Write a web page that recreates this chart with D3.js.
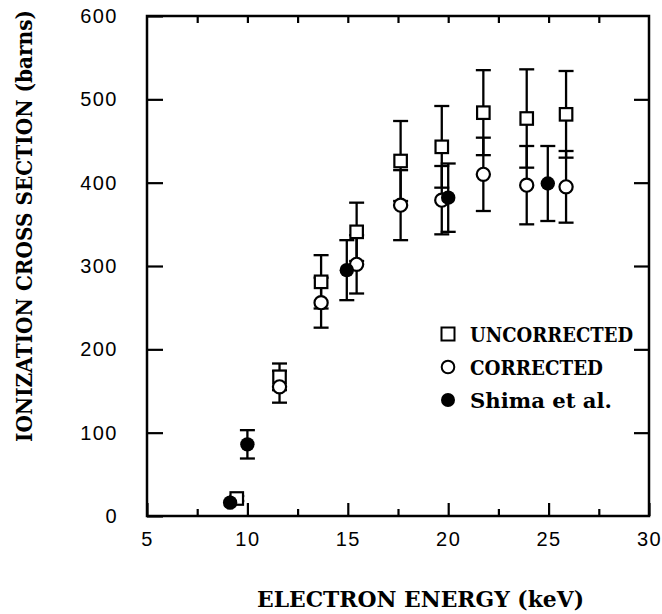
<!DOCTYPE html>
<html lang="en">
<head>
<meta charset="UTF-8" />
<title>Ionization cross section</title>
<script src="https://d3js.org/d3.v7.min.js"></script>
<style>
  body { margin: 0; background: #fff; }
  .tick text { font-family: "Liberation Sans", Arial, sans-serif; font-size: 20px; letter-spacing: 1.5px; fill: #000; }
  .title { font-family: "DejaVu Serif", "Liberation Serif", serif; font-weight: bold; font-size: 22px; fill: #000; }
  .legend text { font-family: "DejaVu Serif", "Liberation Serif", serif; font-weight: bold; font-size: 20px; fill: #000; }
</style>
</head>
<body>
<div id="chart"></div>
<script>
// uncorrected (open squares)
const energyUnc = [9.47, 11.6, 13.67, 15.44, 17.63, 19.68, 21.75, 23.91, 25.87];
const sigmaUnc  = [21, 167, 281, 341, 426, 443, 484, 477, 482];
const errUnc    = [3, 16, 32, 35, 48, 49, 51, 59, 52];

// corrected (open circles)
const energyCor = [11.6, 13.67, 15.44, 17.63, 19.68, 21.75, 23.91, 25.87];
const sigmaCor  = [155, 256, 302, 373, 379, 410, 397, 395];
const errCor    = [19, 30, 35, 42, 41, 44, 47, 43];

// Shima et al. (filled circles)
const energyShima = [9.14, 10.0, 14.95, 20.0, 24.96];
const sigmaShima  = [16, 86, 295, 382, 399];
const errShima    = [0, 17, 36, 41, 45];

const xTicks = [5, 10, 15, 20, 25, 30];
const xMinor = [7.5, 12.5, 17.5, 22.5, 27.5];
const yTicks = [0, 100, 200, 300, 400, 500, 600];

const legendLabels = ["UNCORRECTED", "CORRECTED", "Shima et al."];

const W = 662, H = 614;
const margin = { top: 16, right: 13, bottom: 98, left: 147 };
const width = W - margin.left - margin.right;
const height = H - margin.top - margin.bottom;

const svg = d3.select("#chart").append("svg")
  .attr("width", W).attr("height", H);
const g = svg.append("g").attr("transform", `translate(${margin.left},${margin.top})`);

const x = d3.scaleLinear().domain([5, 30]).range([0, width]);
const y = d3.scaleLinear().domain([0, 600]).range([height, 0]);

function styleAxis(sel) {
  sel.select(".domain").remove();
  sel.selectAll(".tick line").attr("stroke", "#000").attr("stroke-width", 2.2);
}

// bottom: labels + major ticks
g.append("g").attr("transform", `translate(0,${height})`)
  .call(d3.axisBottom(x).tickValues(xTicks).tickSizeInner(-13).tickSizeOuter(0).tickPadding(16).tickFormat(d3.format("d")))
  .call(styleAxis);
g.append("g").attr("transform", `translate(0,${height})`)
  .call(d3.axisBottom(x).tickValues(xMinor).tickSizeInner(-7).tickSizeOuter(0).tickFormat(""))
  .call(styleAxis);
// top ticks
g.append("g")
  .call(d3.axisTop(x).tickValues(xMinor.concat([10, 15, 20, 25])).tickSizeInner(-7).tickSizeOuter(0).tickFormat(""))
  .call(styleAxis);
// left
g.append("g")
  .call(d3.axisLeft(y).tickValues(yTicks).tickSizeInner(-16).tickSizeOuter(0).tickPadding(29).tickFormat(d3.format("d")))
  .call(styleAxis);
// right
g.append("g").attr("transform", `translate(${width},0)`)
  .call(d3.axisRight(y).tickValues(yTicks.slice(1, -1)).tickSizeInner(-15).tickSizeOuter(0).tickFormat(""))
  .call(styleAxis);

g.selectAll(".tick text").attr("fill", "#000");

// frame
g.append("rect").attr("width", width).attr("height", height)
  .attr("fill", "none").attr("stroke", "#000").attr("stroke-width", 2.5);

// error bars
function errorBars(xs, ys, es) {
  const pts = xs.map((e, i) => ({ e, s: ys[i], d: es[i] })).filter(p => p.d > 0);
  const eg = g.append("g").attr("stroke", "#000").attr("stroke-width", 2.3);
  eg.selectAll("line.v").data(pts).enter().append("line")
    .attr("x1", p => x(p.e)).attr("x2", p => x(p.e))
    .attr("y1", p => y(p.s + p.d)).attr("y2", p => y(p.s - p.d));
  eg.selectAll("line.t").data(pts).enter().append("line")
    .attr("x1", p => x(p.e) - 7.5).attr("x2", p => x(p.e) + 7.5)
    .attr("y1", p => y(p.s + p.d)).attr("y2", p => y(p.s + p.d));
  eg.selectAll("line.b").data(pts).enter().append("line")
    .attr("x1", p => x(p.e) - 7.5).attr("x2", p => x(p.e) + 7.5)
    .attr("y1", p => y(p.s - p.d)).attr("y2", p => y(p.s - p.d));
}
errorBars(energyUnc, sigmaUnc, errUnc);
errorBars(energyCor, sigmaCor, errCor);
errorBars(energyShima, sigmaShima, errShima);

// markers
const sq = 12.5;
g.append("g").selectAll("rect").data(energyUnc).enter().append("rect")
  .attr("x", (d) => x(d) - sq / 2)
  .attr("y", (d, i) => y(sigmaUnc[i]) - sq / 2)
  .attr("width", sq).attr("height", sq)
  .attr("fill", "#fff").attr("stroke", "#000").attr("stroke-width", 2.2);

g.append("g").selectAll("circle").data(energyCor).enter().append("circle")
  .attr("cx", d => x(d)).attr("cy", (d, i) => y(sigmaCor[i]))
  .attr("r", 6.6).attr("fill", "#fff").attr("stroke", "#000").attr("stroke-width", 2.2);

g.append("g").selectAll("circle").data(energyShima).enter().append("circle")
  .attr("cx", d => x(d)).attr("cy", (d, i) => y(sigmaShima[i]))
  .attr("r", 7.2).attr("fill", "#000");

// axis titles
svg.append("text").attr("class", "title")
  .attr("x", 257).attr("y", 607)
  .attr("textLength", 327).attr("lengthAdjust", "spacingAndGlyphs")
  .text("ELECTRON ENERGY (keV)");
svg.append("text").attr("class", "title")
  .attr("x", -226).attr("y", 32)
  .attr("transform", "rotate(-90)")
  .attr("text-anchor", "middle")
  .attr("textLength", 432).attr("lengthAdjust", "spacingAndGlyphs")
  .text("IONIZATION CROSS SECTION (barns)");

// legend
const legend = svg.append("g").attr("class", "legend");
const lx = 448, ly = [334, 367, 400], lw = [163, 133, 142];
legend.append("rect").attr("x", lx - 6.5).attr("y", ly[0] - 6.5).attr("width", 13).attr("height", 13)
  .attr("fill", "#fff").attr("stroke", "#000").attr("stroke-width", 2);
legend.append("circle").attr("cx", lx).attr("cy", ly[1]).attr("r", 6.3)
  .attr("fill", "#fff").attr("stroke", "#000").attr("stroke-width", 2);
legend.append("circle").attr("cx", lx).attr("cy", ly[2]).attr("r", 7).attr("fill", "#000");
legendLabels.forEach((t, i) => {
  legend.append("text").attr("x", 470).attr("y", ly[i] + 7.5)
    .attr("textLength", lw[i]).attr("lengthAdjust", "spacingAndGlyphs")
    .text(t);
});
</script>
</body>
</html>
